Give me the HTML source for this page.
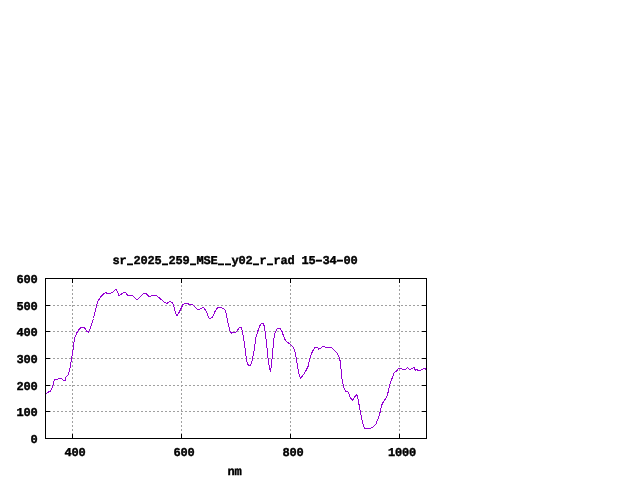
<!DOCTYPE html>
<html><head><meta charset="utf-8"><title>plot</title>
<style>
html,body{margin:0;padding:0;background:#fff;overflow:hidden;width:640px;height:480px;}
svg{display:block;will-change:transform}
text{font-family:"Liberation Mono",monospace;font-weight:bold;font-size:12px;letter-spacing:-0.2px;fill:#000;stroke:#000;stroke-width:0.4px;text-rendering:geometricPrecision;}
.us{font-size:40px;letter-spacing:0;stroke:none}
.hy{font-size:16.67px;letter-spacing:0;stroke:none}
</style></head>
<body>
<svg width="640" height="480" viewBox="0 0 640 480">
<rect width="640" height="480" fill="#fff"/>
<g stroke="#a0a0a0" stroke-width="1" stroke-dasharray="2 2" stroke-dashoffset="1" shape-rendering="crispEdges" fill="none">
<line x1="72.5" y1="278" x2="72.5" y2="439"/>
<line x1="181.5" y1="278" x2="181.5" y2="439"/>
<line x1="290.5" y1="278" x2="290.5" y2="439"/>
<line x1="399.5" y1="278" x2="399.5" y2="439"/>
<line x1="45" y1="411.5" x2="427" y2="411.5" stroke-dashoffset="0"/>
<line x1="45" y1="385.5" x2="427" y2="385.5" stroke-dashoffset="0"/>
<line x1="45" y1="358.5" x2="427" y2="358.5" stroke-dashoffset="0"/>
<line x1="45" y1="331.5" x2="427" y2="331.5" stroke-dashoffset="0"/>
<line x1="45" y1="305.5" x2="427" y2="305.5" stroke-dashoffset="0"/>
</g>
<g stroke="#000" stroke-width="1" shape-rendering="crispEdges" fill="none">
<line x1="72.5" y1="278" x2="72.5" y2="283"/>
<line x1="72.5" y1="434" x2="72.5" y2="439"/>
<line x1="181.5" y1="278" x2="181.5" y2="283"/>
<line x1="181.5" y1="434" x2="181.5" y2="439"/>
<line x1="290.5" y1="278" x2="290.5" y2="283"/>
<line x1="290.5" y1="434" x2="290.5" y2="439"/>
<line x1="399.5" y1="278" x2="399.5" y2="283"/>
<line x1="399.5" y1="434" x2="399.5" y2="439"/>
<line x1="45" y1="438.5" x2="50" y2="438.5"/>
<line x1="422" y1="438.5" x2="427" y2="438.5"/>
<line x1="45" y1="411.5" x2="50" y2="411.5"/>
<line x1="422" y1="411.5" x2="427" y2="411.5"/>
<line x1="45" y1="385.5" x2="50" y2="385.5"/>
<line x1="422" y1="385.5" x2="427" y2="385.5"/>
<line x1="45" y1="358.5" x2="50" y2="358.5"/>
<line x1="422" y1="358.5" x2="427" y2="358.5"/>
<line x1="45" y1="331.5" x2="50" y2="331.5"/>
<line x1="422" y1="331.5" x2="427" y2="331.5"/>
<line x1="45" y1="305.5" x2="50" y2="305.5"/>
<line x1="422" y1="305.5" x2="427" y2="305.5"/>
<line x1="45" y1="278.5" x2="50" y2="278.5"/>
<line x1="422" y1="278.5" x2="427" y2="278.5"/>
</g>
<polyline points="45.5,393.6 47.75,392.5 50.4,391 51.9,388 53.4,384.25 54.1,380.1 55.25,379.5 57.5,379.4 58.6,378.25 61.6,378.25 63.5,380.35 65.4,380.35 66.1,376.75 68.4,374.5 69.9,369.25 70.6,364 73.5,347.5 74,342 75,337 76.5,333.5 78.5,330 81,327.5 83.5,327.3 85.5,329 86.8,331.8 88.5,332.2 90,329 91.5,324.5 93.5,318.5 95,312 96.5,306 98,301 101,296.5 104,293.5 106,292.7 107.5,293.5 110.5,293.3 113,292 115.8,289.5 116.8,290.5 119,295.5 120.5,294.8 123.5,292.5 125.5,292.5 128,296 130,295.5 132.7,295.5 136.4,299.4 137.4,299.4 142,294.8 143.5,293.6 145.2,293.3 147,294.3 148.5,296.3 150.4,296.3 151.5,295.5 156.6,295.5 158.9,297.5 164.5,302.4 167,303.4 169.8,301.5 172.4,302.4 173.6,305.5 175.4,312 176.5,315 177.2,315.6 179,312.5 181.5,307.5 183,304.5 185,303.2 188,303.5 189,304.5 192.8,304.5 197.3,309.4 199.5,309.5 203,307.5 204.5,308.5 206.5,312 209,318 210.5,318.5 212.5,317 215.5,310.5 217.5,307.7 221,307.5 223.8,308.5 225.5,311 227,318 228.5,325 230,331 231.5,333.3 233.5,332.5 236,332.3 238,329.5 239.5,327.5 241.2,327.7 242.5,332 244,341 245.5,352 246.5,360.5 247.5,364 249,365.5 250.5,365 252,361 253.5,354 255,344 256,337 257.5,332 259.5,326.5 261,324 263,323.3 264.3,326 265.5,334 267,348 268.2,360 269.5,368 270.5,371.8 271.5,364.2 272.4,355.5 273,348 273.8,339 275,333 276.5,329.5 278.5,328.2 280.5,329 282,331.5 283.5,336 285.5,340.5 287.5,342.2 290.5,344.5 293.5,347.5 294.5,350 296,357 297.5,366 299,374 300.3,378.3 302.5,376 305.5,371.5 308,366.5 309.5,360 310.3,357.5 311.4,353.8 312.5,351.5 314.6,347.8 315.5,347.3 317.5,347.5 318.5,349.2 320.5,348.2 322.5,346.5 324.5,346.5 325.5,347.5 331.5,347.5 334.5,350.5 337,353 339,357 340.3,361.5 341,369 342,379 343.5,387 345.5,391.2 348,391.8 350.5,398 352.5,400.5 354.5,397 356.5,394.5 357.5,396.5 359,404.5 360.5,413 362.5,422 364.2,428 370.5,428.2 373,427 376,424 377.5,420 379.5,415 381.5,405.5 383.5,401.5 386,398 387.3,395 388.4,391.25 389.5,386 390.6,382.25 391.5,379.6 392.5,377.4 393.6,374 394.4,372.4 395.9,371.4 397,370.6 398.1,368.6 401.5,368.5 402.6,369.5 405.6,369.5 407.5,367.6 409.4,369.6 410.5,369.5 412,368.5 414.25,367.6 415.4,370.4 416.9,369.5 418.4,370.5 420.6,370.5 421.8,369.5 423.6,368.5 424.8,368.5 426,369.6" fill="none" stroke="#9400d3" stroke-width="1" shape-rendering="crispEdges"/>
<rect x="45.5" y="278.5" width="381" height="160" fill="none" stroke="#000" stroke-width="1" shape-rendering="crispEdges"/>
<g>
<text x="37.5" y="443" text-anchor="end">0</text>
<text x="37.5" y="416" text-anchor="end">100</text>
<text x="37.5" y="390" text-anchor="end">200</text>
<text x="37.5" y="363" text-anchor="end">300</text>
<text x="37.5" y="336" text-anchor="end">400</text>
<text x="37.5" y="310" text-anchor="end">500</text>
<text x="37.5" y="283" text-anchor="end">600</text>
<text x="64.5" y="456">400</text>
<text x="173.5" y="456">600</text>
<text x="282.5" y="456">800</text>
<text x="388.0" y="456">1000</text>
<text xml:space="preserve"><tspan x="112.5" y="264">sr</tspan><tspan class="us" x="127" y="260.8" textLength="6" lengthAdjust="spacingAndGlyphs">_</tspan><tspan x="133.5" y="264">2025</tspan><tspan class="us" x="162" y="260.8" textLength="6" lengthAdjust="spacingAndGlyphs">_</tspan><tspan x="168.5" y="264">259</tspan><tspan class="us" x="190" y="260.8" textLength="6" lengthAdjust="spacingAndGlyphs">_</tspan><tspan x="196.5" y="264">MSE</tspan><tspan class="us" x="218" y="260.8" textLength="6" lengthAdjust="spacingAndGlyphs">_</tspan><tspan class="us" x="225" y="260.8" textLength="6" lengthAdjust="spacingAndGlyphs">_</tspan><tspan x="231.5" y="264">y02</tspan><tspan class="us" x="253" y="260.8" textLength="6" lengthAdjust="spacingAndGlyphs">_</tspan><tspan x="259.5" y="264">r</tspan><tspan class="us" x="267" y="260.8" textLength="6" lengthAdjust="spacingAndGlyphs">_</tspan><tspan x="273.5" y="264">rad 15</tspan><tspan class="hy" x="312.57" y="264.6" textLength="12.86" lengthAdjust="spacingAndGlyphs">-</tspan><tspan x="322.5" y="264">34</tspan><tspan class="hy" x="333.57" y="264.6" textLength="12.86" lengthAdjust="spacingAndGlyphs">-</tspan><tspan x="343.5" y="264">00</tspan></text>
<text x="227.5" y="475">nm</text>
</g>
</svg>
</body></html>
